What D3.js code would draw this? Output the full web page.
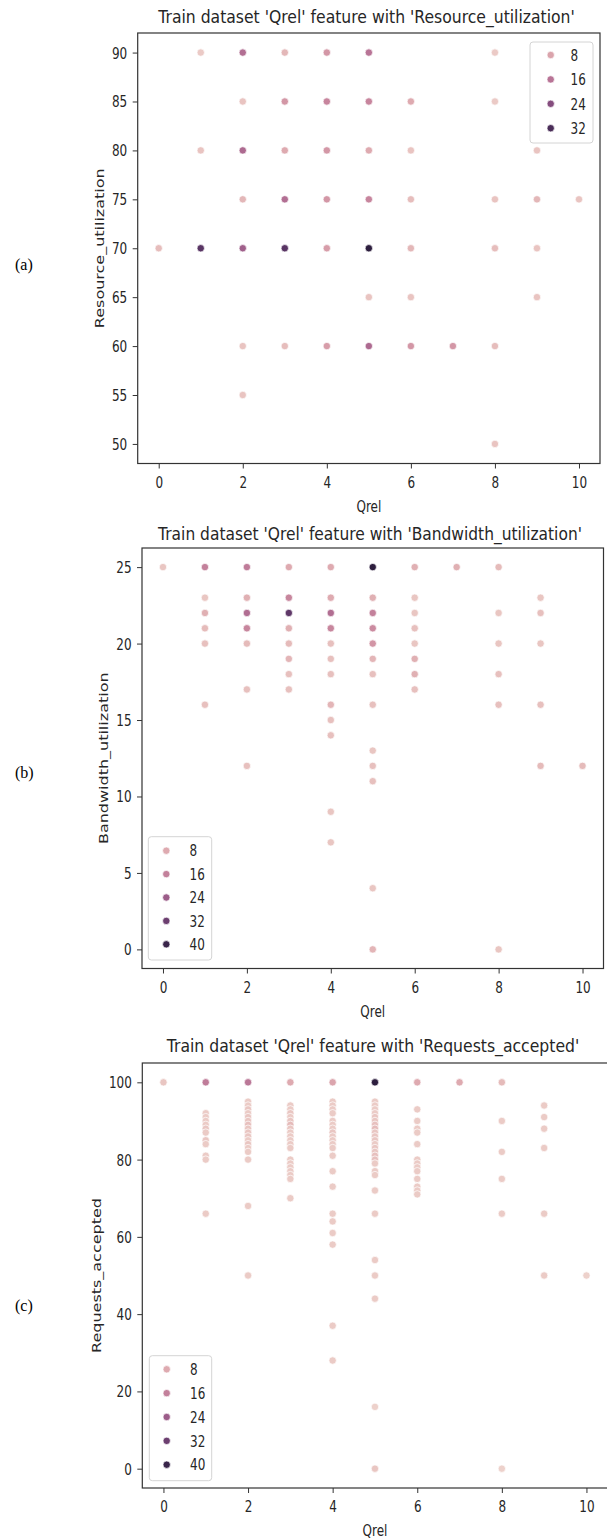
<!DOCTYPE html>
<html>
<head>
<meta charset="utf-8">
<script src="https://cdn.jsdelivr.net/npm/d3@7"></script>
<style>
  body { margin: 0; background: #fff; }
  text { font-family: "DejaVu Sans", sans-serif; fill: #262626; }
</style>
</head>
<body>
<svg id="chart" width="607" height="1540"></svg>
<script>
// ---- data ----
const qrelTicks = [0, 2, 4, 6, 8, 10];
const resourceTicks = [50, 55, 60, 65, 70, 75, 80, 85, 90];
const bandwidthTicks = [0, 5, 10, 15, 20, 25];
const requestsTicks = [0, 20, 40, 60, 80, 100];
const legendA = [8, 16, 24, 32];
const legendBC = [8, 16, 24, 32, 40];

// [Qrel, value, count (hue)]
const resourcePoints = [
  [1,90,2],[2,90,17],[3,90,5],[4,90,10],[5,90,16],[8,90,2],
  [2,85,3],[3,85,10],[4,85,13],[5,85,13],[6,85,7],[8,85,2],
  [1,80,3],[2,80,18],[3,80,7],[4,80,10],[5,80,7],[6,80,3],[9,80,3],
  [2,75,5],[3,75,17],[4,75,10],[5,75,13],[6,75,4],[8,75,3],[9,75,5],[10,75,3],
  [0,70,4],[1,70,30],[2,70,20],[3,70,30],[4,70,9],[5,70,36],[6,70,5],[8,70,4],[9,70,3],
  [5,65,3],[6,65,3],[9,65,3],
  [2,60,3],[3,60,4],[4,60,9],[5,60,18],[6,60,10],[7,60,10],[8,60,4],
  [2,55,3],
  [8,50,3]
];

const bandwidthPoints = [
  [0,25,3],[1,25,16],[2,25,17],[3,25,8],[4,25,8],[5,25,42],[6,25,7],[7,25,7],[8,25,5],
  [1,23,3],[2,23,7],[3,23,15],[4,23,8],[5,23,7],[6,23,3],[9,23,3],
  [1,22,7],[2,22,20],[3,22,34],[4,22,20],[5,22,16],[6,22,3],[8,22,3],[9,22,4],
  [1,21,5],[2,21,15],[3,21,7],[4,21,15],[5,21,14],[6,21,4],
  [1,20,4],[2,20,5],[3,20,5],[4,20,4],[5,20,12],[6,20,3],[8,20,3],[9,20,3],
  [3,19,6],[4,19,4],[5,19,6],[6,19,7],
  [3,18,4],[4,18,4],[5,18,4],[6,18,7],[8,18,4],
  [2,17,4],[3,17,4],[6,17,4],
  [1,16,4],[4,16,6],[5,16,4],[8,16,4],[9,16,4],
  [4,15,4],[4,14,4],[5,13,3],
  [2,12,4],[5,12,4],[9,12,5],[10,12,5],
  [5,11,4],[4,9,3],[4,7,3],[5,4,3],
  [5,0,6],[8,0,3]
];

const requestsPoints = [
  [0,100,3],
  [1,100,17],[1,92,2],[1,91,2],[1,90,2],[1,89,2],[1,88,3],[1,87,2],[1,85,3],[1,84,2],[1,81,2],[1,80,2],[1,66,2],
  [2,100,18],[2,95,2],[2,94,2],[2,93,3],[2,92,2],[2,91,3],[2,90,3],[2,89,4],[2,88,3],[2,87,3],[2,86,3],
  [2,85,2],[2,84,3],[2,83,2],[2,82,2],[2,80,2],[2,68,2],[2,50,2],
  [3,100,8],[3,94,2],[3,93,2],[3,92,3],[3,91,2],[3,90,3],[3,89,5],[3,88,3],[3,87,2],[3,86,2],[3,85,2],
  [3,84,2],[3,83,2],[3,80,2],[3,79,2],[3,78,2],[3,77,2],[3,76,2],[3,75,2],[3,70,2],
  [4,100,9],[4,95,2],[4,94,2],[4,93,2],[4,92,2],[4,90,2],[4,89,2],[4,88,2],[4,87,3],[4,86,2],[4,85,2],
  [4,84,2],[4,83,2],[4,81,2],[4,77,2],[4,73,2],[4,66,2],[4,64,2],[4,61,2],[4,58,2],[4,37,2],[4,28,2],
  [5,100,42],[5,95,2],[5,94,2],[5,93,2],[5,92,2],[5,91,3],[5,90,3],[5,89,4],[5,88,5],[5,87,3],[5,86,3],
  [5,85,3],[5,84,2],[5,83,3],[5,82,3],[5,81,4],[5,80,4],[5,79,2],[5,77,2],[5,76,2],[5,72,2],[5,66,2],
  [5,54,2],[5,50,2],[5,44,2],[5,16,1],[5,0,3],
  [6,100,8],[6,93,2],[6,90,2],[6,88,2],[6,87,2],[6,84,2],[6,80,2],[6,79,2],[6,78,2],[6,77,2],[6,75,2],
  [6,73,2],[6,72,2],[6,71,2],
  [7,100,8],
  [8,100,5],[8,90,2],[8,82,2],[8,75,2],[8,66,2],[8,0,1],
  [9,94,2],[9,91,2],[9,88,2],[9,83,2],[9,66,2],[9,50,2],
  [10,50,1]
];

// seaborn's default numeric-hue palette (cubehelix, light -> dark)
const helixColour = t => {
  const x = 0.85 - 0.7 * t;
  const phi = 2 * Math.PI * (0.4 * x);
  const a = 0.8 * x * (1 - x) / 2;
  const c = Math.cos(phi), s = Math.sin(phi);
  const ch = v => Math.max(0, Math.min(255, Math.round(v * 255)));
  return d3.rgb(
    ch(x + a * (-0.14861 * c + 1.78277 * s)),
    ch(x + a * (-0.29227 * c - 0.90649 * s)),
    ch(x + a * (1.97294 * c))
  ).formatHex();
};

const SX = 0.75; // the source picture is squeezed horizontally
const ink = '#333333';

const scatterPanel = (svg, props) => {
  const { points, box, yDomain, yTicks, title, titleX, titleY, titleWidth,
          yLabel, yLabelX, hueMax, legendVals, legend, tag, tagY } = props;

  const x = d3.scaleLinear().domain([-0.5, 10.5]).range([box.left, box.right]);
  const y = d3.scaleLinear().domain(yDomain).range([box.bottom, box.top]);
  const colour = d3.scaleSequential(helixColour).domain([1, hueMax]);

  const g = svg.append('g');

  // points
  g.append('g').selectAll('circle').data(points).join('circle')
    .attr('cx', d => x(d[0]))
    .attr('cy', d => y(d[1]))
    .attr('r', 3.7)
    .attr('fill', d => colour(d[2]))
    .attr('stroke', '#fff')
    .attr('stroke-width', 0.7);

  // axes
  const xAxis = g.append('g').attr('transform', `translate(0,${box.bottom})`)
    .call(d3.axisBottom(x).tickValues(qrelTicks).tickSize(5).tickSizeOuter(0).tickPadding(8));
  xAxis.select('.domain').remove();
  xAxis.selectAll('line').attr('stroke', ink);
  xAxis.selectAll('text').attr('font-size', 16).attr('fill', '#262626')
    .attr('transform', `scale(${SX},1)`);

  const yAxis = g.append('g').attr('transform', `translate(${box.left},0)`)
    .call(d3.axisLeft(y).tickValues(yTicks).tickSize(5).tickSizeOuter(0));
  yAxis.select('.domain').remove();
  yAxis.selectAll('line').attr('stroke', ink);
  yAxis.selectAll('text').attr('font-size', 16).attr('fill', '#262626')
    .attr('x', -10.5 / SX).attr('dy', '0.34em')
    .attr('transform', `scale(${SX},1)`);

  // frame
  g.append('rect')
    .attr('x', box.left).attr('y', box.top)
    .attr('width', box.right - box.left).attr('height', box.bottom - box.top)
    .attr('fill', 'none').attr('stroke', ink).attr('stroke-width', 1.2);

  // title, squeezed to the width it has in the source
  const t = g.append('text')
    .attr('text-anchor', 'middle').attr('font-size', 18.5)
    .text(title);
  const natural = t.node().getComputedTextLength();
  t.attr('transform', `translate(${titleX},${titleY}) scale(${titleWidth / natural},1)`);

  g.append('text')
    .attr('transform', `translate(${(box.left + box.right) / 2},${box.bottom + 48}) scale(${SX},1)`)
    .attr('text-anchor', 'middle').attr('font-size', 16)
    .text('Qrel');

  g.append('text')
    .attr('transform', `translate(${yLabelX},${(box.top + box.bottom) / 2}) scale(${SX},1) rotate(-90)`)
    .attr('text-anchor', 'middle').attr('font-size', 16)
    .text(yLabel);

  // legend
  const lg = g.append('g');
  lg.append('rect')
    .attr('x', legend.x).attr('y', legend.y)
    .attr('width', legend.w).attr('height', legend.h)
    .attr('rx', 3)
    .attr('fill', '#fff').attr('fill-opacity', 0.8)
    .attr('stroke', '#d4d4d4').attr('stroke-width', 1);
  const items = lg.selectAll('g.item').data(legendVals).join('g')
    .attr('class', 'item')
    .attr('transform', (d, i) => `translate(0,${legend.first + i * legend.step})`);
  items.append('circle')
    .attr('cx', legend.markerX).attr('r', 3.7)
    .attr('fill', d => colour(d))
    .attr('stroke', '#fff').attr('stroke-width', 0.7);
  items.append('text')
    .attr('transform', `translate(${legend.textX},0) scale(${SX},1)`)
    .attr('dy', '0.36em').attr('font-size', 16)
    .text(d => d);

  // panel tag
  svg.append('text')
    .attr('x', 15).attr('y', tagY)
    .style('font-family', '"Liberation Serif", "Times New Roman", serif')
    .style('font-size', '16px').style('fill', '#000')
    .text(tag);
};

const svg = d3.select('#chart');

scatterPanel(svg, {
  points: resourcePoints,
  box: { left: 137.7, right: 600, top: 33, bottom: 463.5 },
  yDomain: [48, 92], yTicks: resourceTicks,
  title: "Train dataset 'Qrel' feature with 'Resource_utilization'",
  titleX: 366.5, titleY: 22.5, titleWidth: 417,
  yLabel: 'Resource_utilization', yLabelX: 103.5,
  hueMax: 36, legendVals: legendA,
  legend: { x: 530, y: 42, w: 63, h: 101, first: 55, step: 24.4, markerX: 550.7, textX: 570.5 },
  tag: '(a)', tagY: 270
});

scatterPanel(svg, {
  points: bandwidthPoints,
  box: { left: 142, right: 603.5, top: 548, bottom: 968.5 },
  yDomain: [-1.25, 26.25], yTicks: bandwidthTicks,
  title: "Train dataset 'Qrel' feature with 'Bandwidth_utilization'",
  titleX: 370, titleY: 540, titleWidth: 424,
  yLabel: 'Bandwidth_utilization', yLabelX: 108,
  hueMax: 42, legendVals: legendBC,
  legend: { x: 148.3, y: 836.7, w: 63.4, h: 123.3, first: 850.7, step: 23.4, markerX: 166.3, textX: 189.5 },
  tag: '(b)', tagY: 778
});

scatterPanel(svg, {
  points: requestsPoints,
  box: { left: 142.3, right: 607.6, top: 1063, bottom: 1488 },
  yDomain: [-5, 105], yTicks: requestsTicks,
  title: "Train dataset 'Qrel' feature with 'Requests_accepted'",
  titleX: 373, titleY: 1052, titleWidth: 413,
  yLabel: 'Requests_accepted', yLabelX: 100.5,
  hueMax: 42, legendVals: legendBC,
  legend: { x: 149.3, y: 1355.7, w: 62.4, h: 125, first: 1369.3, step: 23.85, markerX: 166.7, textX: 190 },
  tag: '(c)', tagY: 1311
});
</script>
</body>
</html>
